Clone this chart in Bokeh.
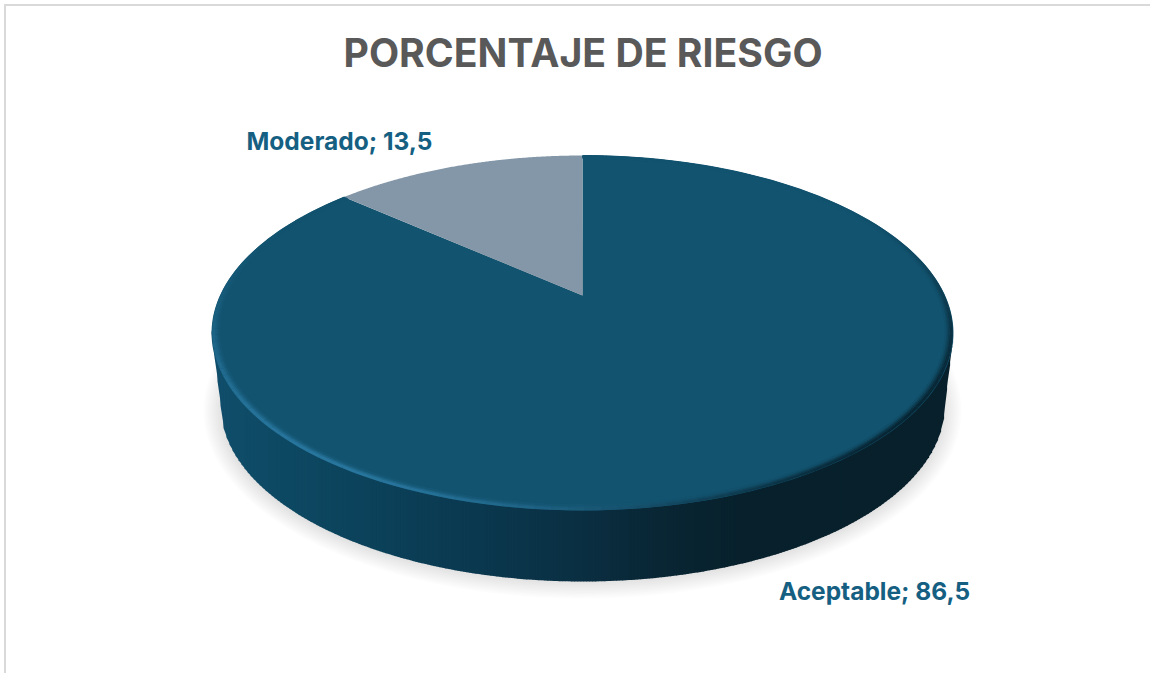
import numpy as np
from bokeh.plotting import figure
from bokeh.models import Range1d
from bokeh.core.properties import value
from bokeh.embed import file_html
from bokeh.resources import INLINE

title_text = "PORCENTAJE DE RIESGO"
categories = ["Aceptable", "Moderado"]
values = [86.5, 13.5]
labels = ["Aceptable; 86,5", "Moderado; 13,5"]
slice_colors = ["#12536F", "#8497A8"]

X0, Y0, PAGE_W, PAGE_H, FT = 6, 6, 1150, 673, 84
p = figure(width=PAGE_W - X0, height=PAGE_H - Y0, frame_width=PAGE_W - X0, frame_height=PAGE_H - FT,
           output_backend="svg", toolbar_location=None, min_border=0, min_border_top=FT - Y0,
           margin=(4, 0, 0, 4),
           x_range=Range1d(X0, PAGE_W), y_range=Range1d(PAGE_H, FT),
           title=title_text)
p.styles = {"border-top": "2px solid #D9D9D9", "border-left": "2px solid #D9D9D9"}
p.axis.visible = False
p.grid.visible = False
p.outline_line_color = None
p.title.align = "left"
p.title.offset = 337
p.title.text_font = "Inter"
p.title.text_font_style = "bold"
p.title.text_font_size = "39.2px"
p.title.text_color = "#595959"
p.title.standoff = 17

# perspective projection of the unit disc onto the page
CX, C, A, B, K = 582.0, 0.2113, -107.25, 295.0, 362.6
def proj(u, v):
    d = C * v + 1
    return CX + K * u / d, (A * v + B) / d

def sector(a0, a1, r=1.0, n=200):
    t = np.radians(np.linspace(a0, a1, n))
    u, v = r * np.sin(t), r * np.cos(t)
    x, y = proj(u, v)
    cx, cy = proj(0.0, 0.0)
    return np.r_[cx, x].tolist(), np.r_[cy, y].tolist()

def mix(c1, c2, f):
    a = [int(c1[i:i+2], 16) for i in (1, 3, 5)]
    b = [int(c2[i:i+2], 16) for i in (1, 3, 5)]
    return "#%02x%02x%02x" % tuple(round(a[i] + (b[i] - a[i]) * f) for i in range(3))

# soft shadow
for k in range(14):
    f = k / 13
    rx, ry = 379 - 26 * f, 188 - 24 * f
    t = np.linspace(0, 2 * np.pi, 200)
    p.patch((582 + rx * np.cos(t)).tolist(), (410 + ry * np.sin(t)).tolist(),
            fill_color="#000000", fill_alpha=0.012, line_color=None)

# side wall, shaded across its width
TCY, TRX, TRY = 332.5, 371.0, 177.5
BCY, BRX, BRY = 405.0, 362.0, 176.0
stops_x = [211, 300, 400, 500, 580, 660, 740, 953]
stops_c = ["#0F4E6B", "#0D4761", "#0B3F57", "#0A364C", "#0A2F42", "#092634", "#07202C", "#08202B"]
def wall_color(x):
    i = min(np.searchsorted(stops_x, x, side="right") - 1, len(stops_x) - 2)
    return mix(stops_c[i], stops_c[i + 1], (x - stops_x[i]) / (stops_x[i + 1] - stops_x[i]))
def upper(x):
    d = np.clip((x - CX) / TRX, -1, 1)
    return TCY + TRY * np.sqrt(1 - d * d)
def lower(x):
    d = x - CX
    ad = abs(d)
    if ad <= BRX:
        return BCY + BRY * np.sqrt(1 - (d / BRX) ** 2)
    return BCY + (TCY - BCY) * (ad - BRX) / (TRX - BRX)
xs, ys, cs = [], [], []
edges = np.arange(211, 954, 3.0)
for x0, x1 in zip(edges[:-1], edges[1:]):
    xs.append([x0, x1 + 0.6, x1 + 0.6, x0])
    ys.append([upper(x0) - 3, upper(x1) - 3, lower(x1), lower(x0)])
    cs.append(wall_color(0.5 * (x0 + x1)))
p.patches(xs, ys, fill_color=cs, line_color=None)

# top face: slices from the values, starting at twelve o'clock going clockwise
start = 0.0
for val, col in zip(values, slice_colors):
    sweep = 360.0 * val / sum(values)
    sx, sy = sector(start, start + sweep)
    p.patch(sx, sy, fill_color=col, line_color=None)
    start += sweep

# bevel along the rim of the large slice
base = slice_colors[0]
def rim_tint(a, depth):
    a = a % 360
    light, dark = "#2C7BA5", "#07202C"
    # a: 0 north, 90 east, 180 south, 270 west
    s = np.cos(np.radians(a - 215))
    d = np.cos(np.radians(a - 128))
    c = base
    if s > 0:
        c = mix(base, light, min(1.0, s ** 2.5) * (1 - depth))
    if d > 0:
        c = mix(c, dark, min(1.0, d ** 3) * (1 - depth))
    return c
seg_x, seg_y, seg_c = [], [], []
a_end = 360.0 * values[0] / sum(values)
angles = np.linspace(0.0, a_end, 150)
for j, r in enumerate([0.996, 0.992, 0.988, 0.984, 0.980]):
    depth = abs(j - 0.5) / 4.0
    for a, b in zip(angles[:-1], angles[1:]):
        t = np.radians([a, b])
        x, y = proj(r * np.sin(t), r * np.cos(t))
        seg_x.append(x.tolist()); seg_y.append(y.tolist())
        seg_c.append(rim_tint(0.5 * (a + b), depth))
p.multi_line(seg_x, seg_y, line_color=seg_c, line_width=2.0)

# labels
p.text(x=[874, 339], y=[590, 140], text=labels, text_align="center", text_baseline="middle",
       text_font=value("Inter"), text_font_style="bold", text_font_size="24.5px", text_color="#156082")

open("out.html", "w").write(file_html(p, INLINE))
